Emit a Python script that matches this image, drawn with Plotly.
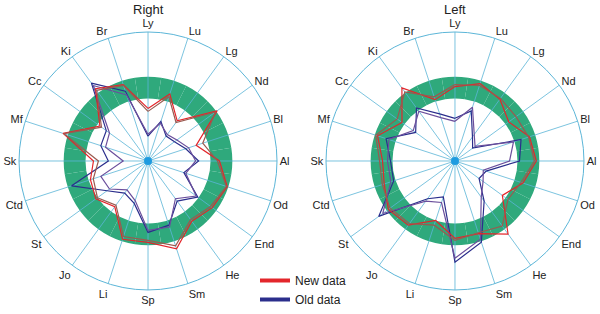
import plotly.graph_objects as go

categories = ["Ly", "Lu", "Lg", "Nd", "Bl", "Al", "Od", "End", "He", "Sm",
              "Sp", "Li", "Jo", "St", "Ctd", "Sk", "Mf", "Cc", "Ki", "Br"]

# Right panel
right_new_a = [53, 71, 50, 86, 51, 72, 84, 80, 75, 93, 82, 83, 57, 65, 61, 55, 90, 60, 90, 81]
right_new_b = [50, 68, 48, 84, 58, 70, 83, 78, 73, 90, 80, 80, 55, 63, 58, 50, 89, 58, 88, 80]
right_old_a = [25, 42, 31, 33, 40, 51, 38, 62, 50, 68, 72, 45, 40, 51, 81, 40, 50, 52, 97, 74]
right_old_b = [27, 40, 33, 36, 43, 48, 40, 60, 47, 70, 70, 42, 36, 48, 50, 25, 45, 48, 94, 70]

# Left panel
left_new_a = [75, 82, 77, 67, 79, 82, 72, 59, 91, 77, 78, 63, 80, 83, 75, 73, 82, 66, 91, 65]
left_new_b = [77, 80, 78, 76, 78, 80, 70, 66, 81, 76, 80, 68, 78, 81, 77, 76, 84, 72, 86, 68]
left_old_a = [43, 53, 30, 22, 70, 65, 33, 30, 50, 86, 102, 38, 47, 95, 65, 65, 73, 49, 66, 50]
left_old_b = [40, 57, 33, 25, 62, 55, 30, 35, 45, 83, 98, 44, 50, 90, 68, 68, 70, 52, 62, 46]

ring_inner = 63
ring_outer = 85
r_max = 130

titles = ["Right", "Left"]
legend_names = ["New data", "Old data"]

SPOKE = "#5cb6d8"
GREEN = "#2fa97c"
RED = "#e3262b"
BROWN = "#9a5a50"
BLUE = "#2b2e8c"
PURPLE = "#6b4f9c"
FONT = "Liberation Sans, Arial"

fig = go.Figure()

panels = [
    ("polar", [right_new_a, right_new_b], [right_old_a, right_old_b]),
    ("polar2", [left_new_a, left_new_b], [left_old_a, left_old_b]),
]

for pi, (sub, news, olds) in enumerate(panels):
    fig.add_trace(go.Barpolar(
        theta=categories, r=[ring_outer - ring_inner] * len(categories),
        base=[ring_inner] * len(categories),
        marker=dict(color=GREEN, line=dict(width=0)),
        subplot=sub, showlegend=False, hoverinfo="skip"))
    th, rr = [], []
    for c in categories:
        th += [c, c, None]
        rr += [0, r_max, None]
    fig.add_trace(go.Scatterpolar(
        theta=th, r=rr, mode="lines", line=dict(color=SPOKE, width=1),
        subplot=sub, showlegend=False, hoverinfo="skip", opacity=0.8))
    for vals, col in zip(olds, [BLUE, PURPLE]):
        fig.add_trace(go.Scatterpolar(
            theta=categories + [categories[0]], r=vals + [vals[0]],
            mode="lines", line=dict(color=col, width=1.2),
            showlegend=False, subplot=sub))
    for vals, col in zip(news, [RED, BROWN]):
        fig.add_trace(go.Scatterpolar(
            theta=categories + [categories[0]], r=vals + [vals[0]],
            mode="lines", line=dict(color=col, width=1.2),
            showlegend=False, subplot=sub))
    fig.add_trace(go.Scatterpolar(
        theta=[categories[0]], r=[0], mode="markers",
        marker=dict(color="#1e9be0", size=8, line=dict(width=0)),
        subplot=sub, showlegend=False, hoverinfo="skip"))

for name, col in zip(legend_names, [RED, BLUE]):
    fig.add_trace(go.Scatterpolar(
        theta=[None], r=[None], mode="lines", name=name,
        line=dict(color=col, width=4), subplot="polar", showlegend=True))

polar_common = dict(
    bgcolor="rgba(0,0,0,0)",
    bargap=0,
    radialaxis=dict(range=[0, r_max], visible=False, showgrid=False),
    angularaxis=dict(
        direction="clockwise", rotation=90, type="category",
        categoryarray=categories, categoryorder="array",
        showgrid=False, showline=True, linecolor=SPOKE, linewidth=1,
        ticks="", tickfont=dict(family=FONT, size=11, color="#222"),
    ),
    barmode="overlay",
)

fig.update_layout(
    width=600, height=314,
    margin=dict(l=0, r=0, t=0, b=0),
    paper_bgcolor="white", plot_bgcolor="white",
    polar=dict(domain=dict(x=[0.0317, 0.4617], y=[0.0765, 0.8981]), **polar_common),
    polar2=dict(domain=dict(x=[0.5433, 0.9733], y=[0.0765, 0.8981]), **polar_common),
    legend=dict(x=0.425, y=0.0, xanchor="left", yanchor="bottom",
                itemwidth=30,
                font=dict(family=FONT, size=12, color="#222"),
                bgcolor="rgba(0,0,0,0)", tracegroupgap=0),
    annotations=[
        dict(text=titles[0], x=148 / 600, y=1.0, xref="paper", yref="paper",
             xanchor="center", yanchor="top", showarrow=False,
             font=dict(family=FONT, size=13, color="#222")),
        dict(text=titles[1], x=455 / 600, y=1.0, xref="paper", yref="paper",
             xanchor="center", yanchor="top", showarrow=False,
             font=dict(family=FONT, size=13, color="#222")),
    ],
)

fig.write_html("out.html")
